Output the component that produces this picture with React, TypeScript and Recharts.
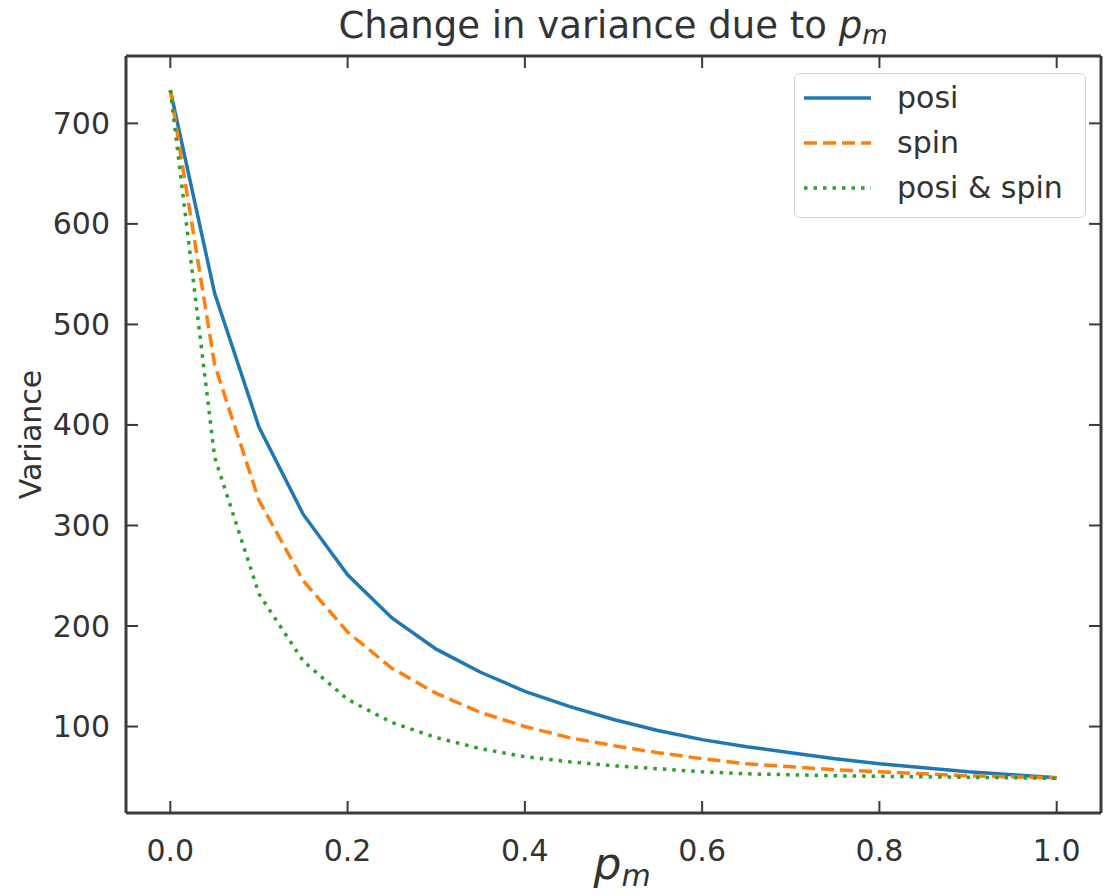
import React from "react";
import { Legend, Line, LineChart, XAxis, YAxis } from "recharts";

const P_VALUES = [
  0, 0.05, 0.1, 0.15, 0.2, 0.25, 0.3, 0.35, 0.4, 0.45, 0.5, 0.55, 0.6, 0.65, 0.7,
  0.75, 0.8, 0.85, 0.9, 0.95, 1.0,
];
const POSI = [
  733, 531, 398, 311, 251, 208, 177, 154, 135, 120, 107, 96, 87, 80, 74, 68, 63,
  59, 55, 52, 49,
];
const SPIN = [
  733, 460, 325, 245, 194, 158, 133, 114, 100, 89, 81, 74, 68, 63, 60, 57, 55,
  53, 51, 50, 49,
];
const BOTH = [
  733, 368, 232, 165, 127, 104, 89, 78, 70, 65, 61, 58, 55, 53, 52, 51, 50.5,
  50, 49.5, 49, 48.5,
];
const X_TICKS = [0, 0.2, 0.4, 0.6, 0.8, 1.0];
const Y_TICKS = [100, 200, 300, 400, 500, 600, 700];
const SERIES_ORDER = ["posi", "spin", "both"];

const data = P_VALUES.map((p, i) => ({
  p,
  posi: POSI[i],
  spin: SPIN[i],
  both: BOTH[i],
}));

const W = 1107;
const H = 896;
const FONT = "'DejaVu Sans', sans-serif";
const TEXT = "#333333";
const SPINE = "#3a3a3a";
const TICK_LEN = 12;

const BLUE = "#1f77b4";
const ORANGE = "#ff7f0e";
const GREEN = "#2ca02c";

const DASHES: Record<string, string | undefined> = {
  posi: undefined,
  spin: "13 6",
  both: "3.5 6",
};

const axisLine = { stroke: SPINE, strokeWidth: 3 };

function BottomTick(props: any) {
  const { x, y, payload } = props;
  return (
    <g>
      <line x1={x} x2={x} y1={y} y2={y - TICK_LEN} stroke={SPINE} strokeWidth={2} />
      <text
        x={x}
        y={y + 37}
        textAnchor="middle"
        dominantBaseline="central"
        fontFamily={FONT}
        fontSize={30}
        fill={TEXT}
      >
        {payload.value.toFixed(1)}
      </text>
    </g>
  );
}

function TopTick(props: any) {
  const { x, y } = props;
  return <line x1={x} x2={x} y1={y} y2={y + TICK_LEN} stroke={SPINE} strokeWidth={2} />;
}

function LeftTick(props: any) {
  const { x, y, payload } = props;
  return (
    <g>
      <line x1={x} x2={x + TICK_LEN} y1={y} y2={y} stroke={SPINE} strokeWidth={2} />
      <text
        x={x - 16}
        y={y}
        textAnchor="end"
        dominantBaseline="central"
        fontFamily={FONT}
        fontSize={30}
        fill={TEXT}
      >
        {payload.value}
      </text>
    </g>
  );
}

function RightTick(props: any) {
  const { x, y } = props;
  return <line x1={x} x2={x - TICK_LEN} y1={y} y2={y} stroke={SPINE} strokeWidth={2} />;
}

function LegendBox(props: any) {
  const items = [...(props.payload || [])].sort(
    (a: any, b: any) =>
      SERIES_ORDER.indexOf(a.dataKey) - SERIES_ORDER.indexOf(b.dataKey)
  );
  return (
    <div
      style={{
        border: "1.5px solid #d0d0d0",
        borderRadius: 6,
        background: "rgba(255,255,255,0.8)",
        padding: "1px 0 7px",
        width: 292,
        boxSizing: "border-box",
      }}
    >
      {items.map((entry: any) => (
        <div
          key={entry.dataKey}
          style={{ display: "flex", alignItems: "center", height: 45 }}
        >
          <svg width={102} height={20} style={{ flex: "none" }}>
            <line
              x1={9}
              x2={76}
              y1={10}
              y2={10}
              stroke={entry.color}
              strokeWidth={3.5}
              strokeDasharray={DASHES[entry.dataKey]}
            />
          </svg>
          <span
            style={{
              fontFamily: FONT,
              fontSize: 30,
              color: TEXT,
              lineHeight: "30px",
            }}
          >
            {entry.value}
          </span>
        </div>
      ))}
    </div>
  );
}

function XLabel(props: any) {
  const { viewBox } = props;
  const cx = viewBox.x + viewBox.width / 2;
  return (
    <text x={cx - 20} y={viewBox.y + 66} fontFamily={FONT} fill={TEXT}>
      <tspan fontSize={44} fontStyle="italic">
        p
      </tspan>
      <tspan fontSize={30} fontStyle="italic" dy={7}>
        m
      </tspan>
    </text>
  );
}

function YLabel(props: any) {
  const { viewBox } = props;
  const cy = viewBox.y + viewBox.height / 2;
  return (
    <text
      x={30}
      y={cy}
      transform={`rotate(-90, 30, ${cy})`}
      textAnchor="middle"
      dominantBaseline="central"
      fontFamily={FONT}
      fontSize={30}
      fill={TEXT}
    >
      Variance
    </text>
  );
}

export default function App() {
  return (
    <div
      style={{
        position: "absolute",
        left: 0,
        top: 0,
        width: W,
        height: H,
        background: "#fff",
      }}
    >
      <div
        style={{
          position: "absolute",
          left: 0,
          top: 4,
          width: 1226,
          textAlign: "center",
          fontFamily: FONT,
          fontSize: 37,
          color: TEXT,
          whiteSpace: "nowrap",
          lineHeight: "44px",
        }}
      >
        Change in variance due to <i>p</i>
        <sub style={{ fontSize: 26, fontStyle: "italic", verticalAlign: "-6px" }}>
          m
        </sub>
      </div>
      <LineChart
        width={W}
        height={H}
        data={data}
        margin={{ top: 55, right: 5, bottom: 0, left: 0 }}
      >
        <XAxis
          dataKey="p"
          type="number"
          domain={[-0.05, 1.05]}
          ticks={X_TICKS}
          allowDataOverflow
          height={83}
          tickSize={0}
          tickMargin={0}
          tickLine={false}
          axisLine={axisLine}
          tick={<BottomTick />}
          interval={0}
          label={<XLabel />}
        />
        <XAxis
          xAxisId="top"
          orientation="top"
          dataKey="p"
          type="number"
          domain={[-0.05, 1.05]}
          ticks={X_TICKS}
          allowDataOverflow
          height={1}
          tickSize={0}
          tickMargin={0}
          tickLine={false}
          axisLine={axisLine}
          tick={<TopTick />}
          interval={0}
        />
        <YAxis
          type="number"
          domain={[14, 767]}
          ticks={Y_TICKS}
          allowDataOverflow
          width={126}
          tickSize={0}
          tickMargin={0}
          tickLine={false}
          axisLine={axisLine}
          tick={<LeftTick />}
          interval={0}
          label={<YLabel />}
        />
        <YAxis
          yAxisId="right"
          orientation="right"
          type="number"
          domain={[14, 767]}
          ticks={Y_TICKS}
          allowDataOverflow
          width={1}
          tickSize={0}
          tickMargin={0}
          tickLine={false}
          axisLine={axisLine}
          tick={<RightTick />}
          interval={0}
        />
        <Legend
          layout="horizontal"
          verticalAlign="middle"
          align="center"
          content={<LegendBox />}
          wrapperStyle={{ top: 73, left: 794, width: 292, right: "auto", bottom: "auto" }}
        />
        <Line
          type="linear"
          dataKey="posi"
          name="posi"
          stroke={BLUE}
          strokeWidth={3.5}
          dot={false}
          isAnimationActive={false}
        />
        <Line
          type="linear"
          dataKey="spin"
          name="spin"
          stroke={ORANGE}
          strokeWidth={3.5}
          strokeDasharray="13 6"
          dot={false}
          isAnimationActive={false}
        />
        <Line
          type="linear"
          dataKey="both"
          name="posi & spin"
          stroke={GREEN}
          strokeWidth={3.5}
          strokeDasharray="3.5 6"
          dot={false}
          isAnimationActive={false}
        />
      </LineChart>
    </div>
  );
}
